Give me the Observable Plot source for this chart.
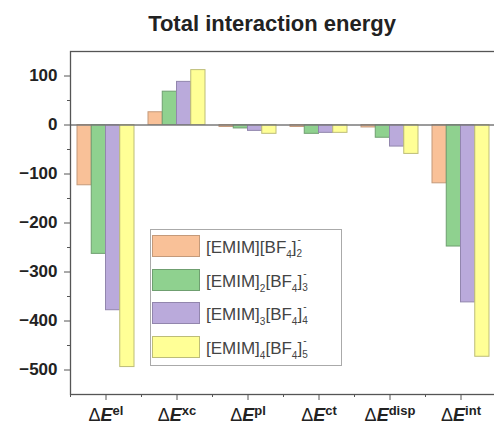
<!DOCTYPE html>
<html>
<head>
<meta charset="utf-8">
<script src="https://cdn.jsdelivr.net/npm/d3@7"></script>
<script src="https://cdn.jsdelivr.net/npm/@observablehq/plot@0.6"></script>
<style>
  html, body { margin: 0; padding: 0; background: #fff; overflow: hidden; }
  #wrap { position: relative; width: 494px; height: 426px; overflow: hidden; font-family: "Liberation Sans", Arial, sans-serif; }
  #title { position: absolute; left: 0; top: 0; width: 494px; padding-left: 50px; box-sizing: border-box; height: 40px; text-align: center; font-weight: bold; font-size: 22px; line-height: 48px; color: #222; }
  #chart { position: absolute; left: 0; top: 40px; }
  #chart svg { max-width: none !important; overflow: hidden; }
  #legend { position: absolute; left: 150px; top: 229px; width: 192px; height: 137px; border: 1px solid #aaa; box-sizing: border-box; background: #fff; }
  .row { position: absolute; left: 1px; height: 22px; width: 188px; }
  .sw { position: absolute; left: 0; top: 0; width: 48px; height: 22px; box-sizing: border-box; border: 1px solid #888; }
  .lab { position: absolute; left: 54px; top: 1px; font-size: 17px; line-height: 20px; color: #444; white-space: nowrap; }
  .sb { font-size: 10px; position: relative; top: 5px; }
  .ss { display: inline-block; position: relative; width: 8px; height: 17px; }
  .ss .up { position: absolute; left: 1px; top: -6px; font-size: 10px; }
  .ss .dn { position: absolute; left: 0; top: 8px; font-size: 10px; }
</style>
</head>
<body>
<div id="wrap">
  <div id="title">Total interaction energy</div>
  <div id="chart"></div>
  <div id="legend"></div>
</div>
<script>
// ---- data ----
const categories = ["el", "xc", "pl", "ct", "disp", "int"];
const seriesA = [-123, 26, -4, -4, -5, -119];   // [EMIM][BF4]2-
const seriesB = [-263, 68, -7, -18, -26, -248]; // [EMIM]2[BF4]3-
const seriesC = [-378, 88, -12, -16, -44, -362];// [EMIM]3[BF4]4-
const seriesD = [-494, 112, -18, -16, -59, -473];// [EMIM]4[BF4]5-
const cationCounts = ["", "2", "3", "4"];
const anionCounts = ["2", "3", "4", "5"];
const yMajorTicks = [100, 0, -100, -200, -300, -400, -500];
const yMinorTicks = [50, -50, -150, -250, -350, -450];

const seriesValues = [seriesA, seriesB, seriesC, seriesD];
const colors = ["#F9C198", "#8FD18F", "#BAAADB", "#FFFF96"];
const strokes = ["#c49a7a", "#6f9f70", "#9286ad", "#bdbd78"];

const bandW = 426 / 6;
const barW = 14.25;
const groupOff = (bandW - 4 * barW) / 2;

const marks = [];
seriesValues.forEach((vals, i) => {
  const rows = categories.map((c, j) => ({cat: c, v: vals[j]}));
  const left = groupOff + i * barW;
  marks.push(Plot.barY(rows, {
    x: "cat", y: "v", fill: colors[i], stroke: strokes[i], strokeWidth: 1,
    insetLeft: left, insetRight: bandW - barW - left
  }));
});
marks.push(Plot.ruleY([0], {stroke: "#7a7a7a", strokeWidth: 1.6}));
marks.push(Plot.frame({stroke: "#555", strokeWidth: 1.3}));
marks.push(Plot.axisY(yMajorTicks, {tickSize: 6, tickPadding: 7, fontSize: 17, fontWeight: "bold", stroke: "#555", fill: "#222", tickFormat: d => d < 0 ? "\u2212" + Math.abs(d) : String(d)}));
marks.push(Plot.axisY(yMinorTicks, {tickSize: 3, stroke: "#555", tickFormat: () => ""}));
marks.push(Plot.axisX(categories, {tickSize: 6, tickPadding: 8, fontSize: 18, fontWeight: "bold", stroke: "#555", fill: "#222", tickFormat: d => d}));
marks.push(Plot.axisX(categories, {tickSize: 3, stroke: "#555", dx: -bandW / 2, tickFormat: () => ""}));

const chart = Plot.plot({
  width: 496,
  height: 386,
  marginLeft: 70,
  marginRight: 0,
  marginTop: 11,
  marginBottom: 32,
  style: {fontFamily: "'Liberation Sans', Arial, sans-serif", background: "#fff"},
  x: {domain: categories, padding: 0, label: null, axis: null},
  y: {domain: [-550, 150], label: null, axis: null},
  marks
});
document.getElementById("chart").appendChild(chart);

// rich x tick labels: ΔE^sup
chart.querySelectorAll('g[aria-label="x-axis tick label"] text').forEach(t => {
  const key = t.textContent;
  if (!key) return;
  while (t.firstChild) t.removeChild(t.firstChild);
  const ns = "http://www.w3.org/2000/svg";
  const a = document.createElementNS(ns, "tspan"); a.textContent = "\u0394"; a.setAttribute("font-weight", "normal");
  const e = document.createElementNS(ns, "tspan"); e.textContent = "E"; e.setAttribute("font-style", "italic");
  const s = document.createElementNS(ns, "tspan"); s.textContent = key; s.setAttribute("font-size", "13"); s.setAttribute("dy", "-6");
  t.appendChild(a); t.appendChild(e); t.appendChild(s);
});

// legend
const legend = document.getElementById("legend");
const rowTops = [5, 39, 72, 106];
cationCounts.forEach((cc, i) => {
  const row = document.createElement("div");
  row.className = "row";
  row.style.top = rowTops[i] + "px";
  const sw = document.createElement("div");
  sw.className = "sw";
  sw.style.background = colors[i];
  sw.style.borderColor = strokes[i];
  row.appendChild(sw);
  const lab = document.createElement("div");
  lab.className = "lab";
  lab.innerHTML = "[EMIM]" + (cc ? '<span class="sb">' + cc + '</span>' : "") +
    '[BF<span class="sb">4</span>]<span class="ss"><span class="up">-</span><span class="dn">' + anionCounts[i] + '</span></span>';
  row.appendChild(lab);
  legend.appendChild(row);
});
</script>
</body>
</html>
